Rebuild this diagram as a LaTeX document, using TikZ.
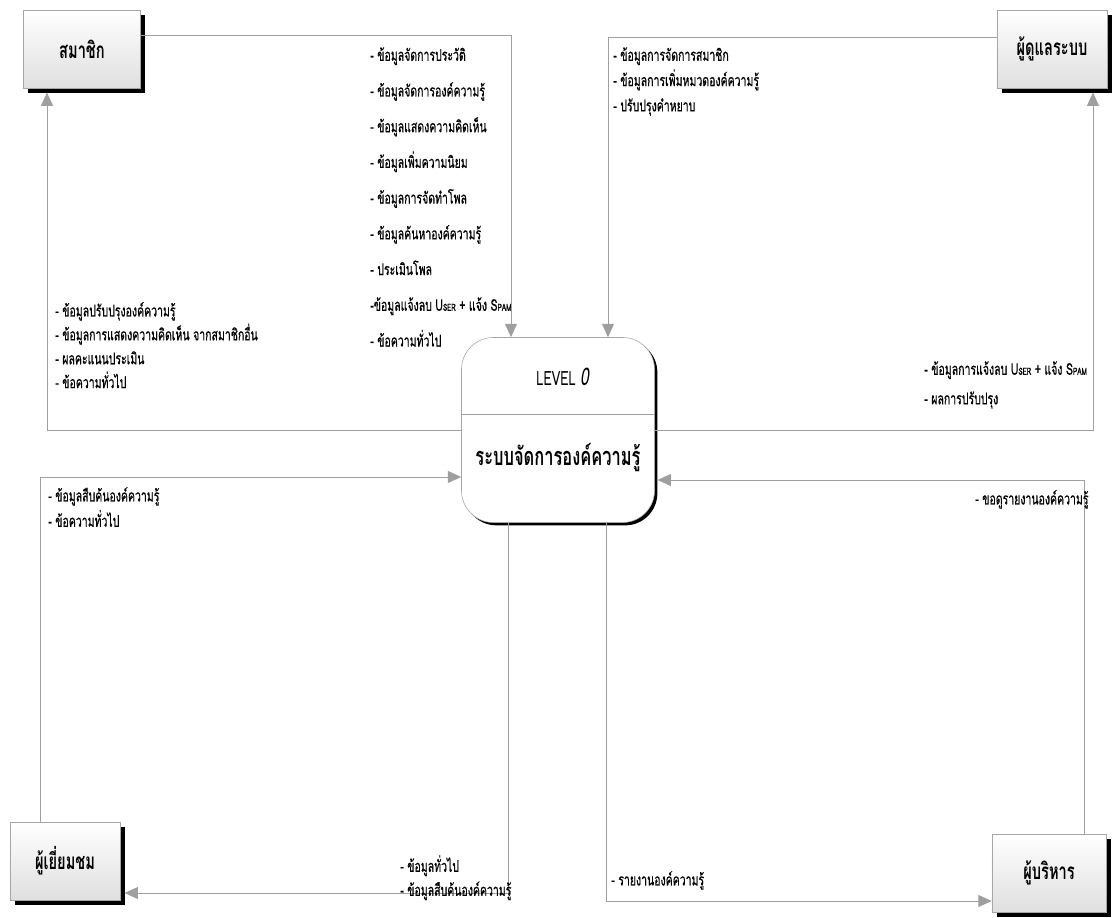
\documentclass[tikz,border=0pt]{standalone}
\usepackage{fontspec}
\newfontfamily\thaifont[Script=Thai,FakeStretch=0.65]{Loma}
\newfontfamily\thaimed[Script=Thai,FakeStretch=0.65,FakeBold=0.6]{Loma}
\usetikzlibrary{arrows.meta,shadows}
\tikzset{
  ent/.style={draw=gray!70,top color=white,bottom color=gray!25,
    minimum width=2.8cm,minimum height=1.95cm,
    font=\thaifont\bfseries\fontsize{16}{18}\selectfont,
    drop shadow={shadow xshift=3.5pt,shadow yshift=-3.5pt,fill=black,opacity=1}},
  proc/.style={draw=gray!70,fill=white,rounded corners=0.8cm,
    minimum width=4.825cm,minimum height=4.625cm,
    drop shadow={shadow xshift=2pt,shadow yshift=-2pt,fill=black,opacity=1}},
  flow/.style={draw=gray!75,line width=0.7pt,-{Triangle[length=9.5pt,width=8.5pt]}},
  rule/.style={draw=gray!75,line width=0.6pt},
  lbl/.style={anchor=north west,align=left,inner sep=0pt,
    font=\thaimed\fontsize{11.5}{#1}\selectfont},
  lbl/.default=22pt,
}

\begin{document}
\begin{tikzpicture}[x=0.025cm,y=-0.025cm]
\fill[white] (0,0) rectangle (1120,918);
\useasboundingbox (0,0) rectangle (1120,918);
% external entities
\node[ent,minimum width=2.925cm] (mem) at (82,49) {สมาชิก};
\node[ent,minimum width=2.75cm] (adm) at (1052,49) {ผู้ดูแลระบบ};
\node[ent,minimum width=2.75cm] (vis) at (65,861) {ผู้เยี่ยมชม};
\node[ent,minimum width=2.85cm] (exe) at (1049,873) {ผู้บริหาร};
% process
\node[proc] (sys) at (558,430) {};
\node[font=\thaifont\fontsize{14}{16}\selectfont] (lvl) at (563,377) {LEVEL \textit{\LARGE 0}};
\coordinate (dv) at (0,414);
\draw[rule] (sys.west |- dv) -- (sys.east |- dv);
\node[font=\thaifont\bfseries\fontsize{18}{22}\selectfont] (sysname) at (558,458) {ระบบจัดการองค์ความรู้};
% bends
\coordinate (m1) at (511,35);
\coordinate (m2) at (47,430);
\coordinate (a1) at (608,37);
\coordinate (a2) at (1093,430);
\coordinate (v1) at (40,477);
\coordinate (v2) at (508,893);
\coordinate (e1) at (606,901);
\coordinate (e2) at (1084,480);
% flows
\draw[flow] (mem.east |- m1) -- (m1) -- (sys.north -| m1);
\draw[flow,shorten >=3pt] (sys.west) -- (m2) -- (mem.south -| m2);
\draw[flow] (adm.west |- a1) -- (a1) -- (sys.north -| a1);
\draw[flow,shorten >=3pt] (sys.east) -- (a2) -- (adm.south -| a2);
\draw[flow] (vis.north -| v1) -- (v1) -- (sys.west |- v1);
\draw[flow,shorten >=3pt] (sys.south -| v2) -- (v2) -- (vis.east |- v2);
\draw[flow] (sys.south -| e1) -- (e1) -- (exe.west |- e1);
\draw[flow,shorten >=2pt] (exe.north -| e2) -- (e2) -- (sys.east |- e2);
% flow labels
\node[lbl=25.4pt] (mlist) at (370,47) {- ข้อมูลจัดการประวัติ\\- ข้อมูลจัดการองค์ความรู้\\- ข้อมูลแสดงความคิดเห็น\\- ข้อมูลเพิ่มความนิยม\\- ข้อมูลการจัดทำโพล\\- ข้อมูลค้นหาองค์ความรู้\\- ประเมินโพล\\-ข้อมูลแจ้งลบ U{\scriptsize SER} + แจ้ง S{\scriptsize PAM}\\- ข้อความทั่วไป};
\node[lbl=17pt] (llist) at (55,302) {- ข้อมูลปรับปรุงองค์ความรู้\\- ข้อมูลการแสดงความคิดเห็น จากสมาชิกอื่น\\- ผลคะแนนประเมิน\\- ข้อความทั่วไป};
\node[lbl=18pt] (alist) at (613,47) {- ข้อมูลการจัดการสมาชิก\\- ข้อมูลการเพิ่มหมวดองค์ความรู้\\- ปรับปรุงคำหยาบ};
\node[lbl=21pt] (rlist) at (924,361) {- ข้อมูลการแจ้งลบ U{\scriptsize SER} + แจ้ง S{\scriptsize PAM}\\- ผลการปรับปรุง};
\node[lbl=18pt] (vlist) at (48,487) {- ข้อมูลสืบค้นองค์ความรู้\\- ข้อความทั่วไป};
\node[lbl] (elist) at (975,490) {- ขอดูรายงานองค์ความรู้};
\node[lbl=17pt] (blist) at (400,855) {- ข้อมูลทั่วไป\\- ข้อมูลสืบค้นองค์ความรู้};
\node[lbl] (xlist) at (611,871) {- รายงานองค์ความรู้};
\end{tikzpicture}
\end{document}
